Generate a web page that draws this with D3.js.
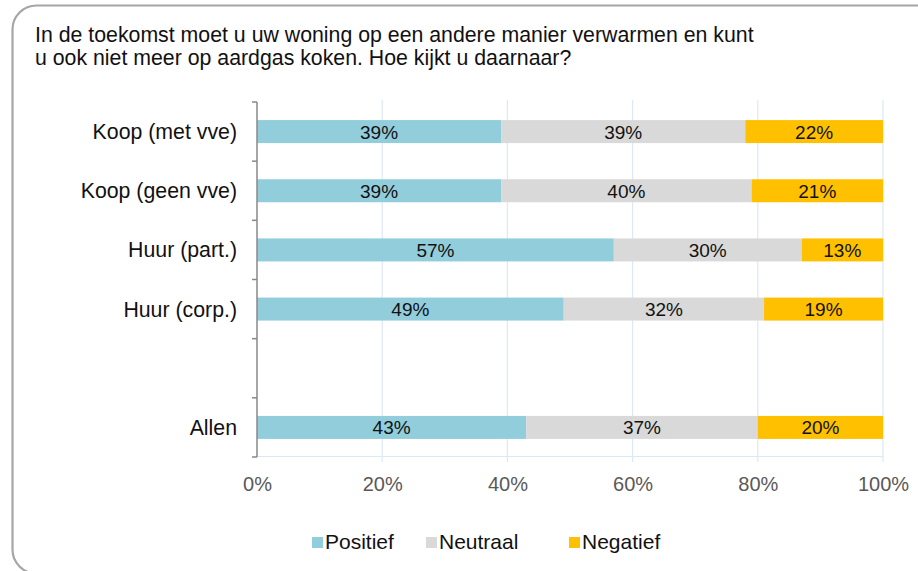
<!DOCTYPE html>
<html><head><meta charset="utf-8">
<script src="https://cdn.jsdelivr.net/npm/d3@7"></script>
<style>body{margin:0;background:#fff}svg{display:block}</style>
</head><body>
<svg id="c" width="918" height="571"></svg>
<script>
const categories = ["Koop (met vve)", "Koop (geen vve)", "Huur (part.)", "Huur (corp.)", "", "Allen"];
const positief = [39, 39, 57, 49, null, 43];
const neutraal = [39, 40, 30, 32, null, 37];
const negatief = [22, 21, 13, 19, null, 20];
const seriesNames = ["Positief", "Neutraal", "Negatief"];
const xTicks = [0, 20, 40, 60, 80, 100];
const titleLines = ["In de toekomst moet u uw woning op een andere manier verwarmen en kunt", "u ook niet meer op aardgas koken. Hoe kijkt u daarnaar?"];

const colors = ["#92CDDC", "#D9D9D9", "#FFC000"];
const FONT = "Arial, 'Liberation Sans', sans-serif";
const NARROW = "'Liberation Sans Narrow', 'Arial Narrow', Arial, sans-serif";
const svg = d3.select("#c");

// frame
svg.append("rect").attr("x", 12.5).attr("y", 5.5).attr("width", 930).attr("height", 568)
  .attr("rx", 24).attr("ry", 24).attr("fill", "#fff").attr("stroke", "#a6a6a6").attr("stroke-width", 2.2);

// title
svg.append("g").selectAll("text").data(titleLines).join("text")
  .attr("x", 35).attr("y", (d, i) => 42 + i * 23)
  .attr("font-family", FONT).attr("font-size", 21.3).attr("fill", "#111")
  .text(d => d);

const x = d3.scaleLinear().domain([0, 100]).range([257, 883]);
const y = d3.scaleBand().domain(d3.range(categories.length)).range([102, 457]).paddingInner(0).paddingOuter(0);

// grid
const grid = svg.append("g");
grid.selectAll("line.v").data(xTicks.slice(1)).join("line")
  .attr("x1", d => x(d)).attr("x2", d => x(d)).attr("y1", 100).attr("y2", 462)
  .attr("stroke", "#dce9f5").attr("stroke-width", 1.2);
grid.append("line").attr("x1", 257).attr("x2", 883).attr("y1", 456.5).attr("y2", 456.5)
  .attr("stroke", "#dce9f5").attr("stroke-width", 1.2);

// stacked data
const rows = categories.map((c, i) => ({ i, Positief: positief[i], Neutraal: neutraal[i], Negatief: negatief[i] }))
  .filter(r => r.Positief != null);
const stack = d3.stack().keys(seriesNames)(rows);
const barH = 23;
const g = svg.append("g");
stack.forEach((s, k) => {
  const gg = g.append("g");
  gg.selectAll("rect").data(s).join("rect")
    .attr("x", d => x(d[0])).attr("width", d => x(d[1]) - x(d[0]))
    .attr("y", d => y(d.data.i) + y.bandwidth() / 2 - barH / 2).attr("height", barH)
    .attr("fill", colors[k]);
  gg.selectAll("text").data(s).join("text")
    .attr("x", d => (x(d[0]) + x(d[1])) / 2)
    .attr("y", d => y(d.data.i) + y.bandwidth() / 2 + 7)
    .attr("text-anchor", "middle")
    .attr("font-family", FONT).attr("font-size", 19).attr("fill", "#111")
    .text(d => (d[1] - d[0]) + "%");
});

// y axis
const ya = svg.append("g").attr("transform", "translate(257,0)");
ya.append("line").attr("x1", 0).attr("x2", 0).attr("y1", 102).attr("y2", 457).attr("stroke", "#888").attr("stroke-width", 1.5);
const edges = d3.range(categories.length + 1).map(i => 102 + i * y.bandwidth());
ya.selectAll("line.t").data(edges).join("line").attr("class", "t")
  .attr("x1", -5).attr("x2", 0).attr("y1", d => d).attr("y2", d => d).attr("stroke", "#888").attr("stroke-width", 1.5);
ya.selectAll("text").data(categories).join("text")
  .attr("x", -20).attr("y", (d, i) => y(i) + y.bandwidth() / 2 + 7.5)
  .attr("text-anchor", "end")
  .attr("font-family", FONT).attr("font-size", 21.3).attr("fill", "#111")
  .text(d => d);

// x axis labels
const xa = svg.append("g").attr("transform", "translate(0,457)")
  .call(d3.axisBottom(x).tickValues(xTicks).tickSize(0).tickFormat(d => d + "%"));
xa.select(".domain").remove();
xa.selectAll("text").attr("dy", 0).attr("y", 34)
  .attr("font-family", NARROW).attr("font-size", 20).attr("fill", "#595959");

// legend
const legendX = [312, 426, 569];
const lg = svg.append("g");
seriesNames.forEach((n, k) => {
  lg.append("rect").attr("x", legendX[k]).attr("y", 537).attr("width", 11).attr("height", 11).attr("fill", colors[k]);
  lg.append("text").attr("x", legendX[k] + 13).attr("y", 548.5)
    .attr("font-family", FONT).attr("font-size", 21).attr("fill", "#111")
    .text(n);
});
</script>
</body></html>
